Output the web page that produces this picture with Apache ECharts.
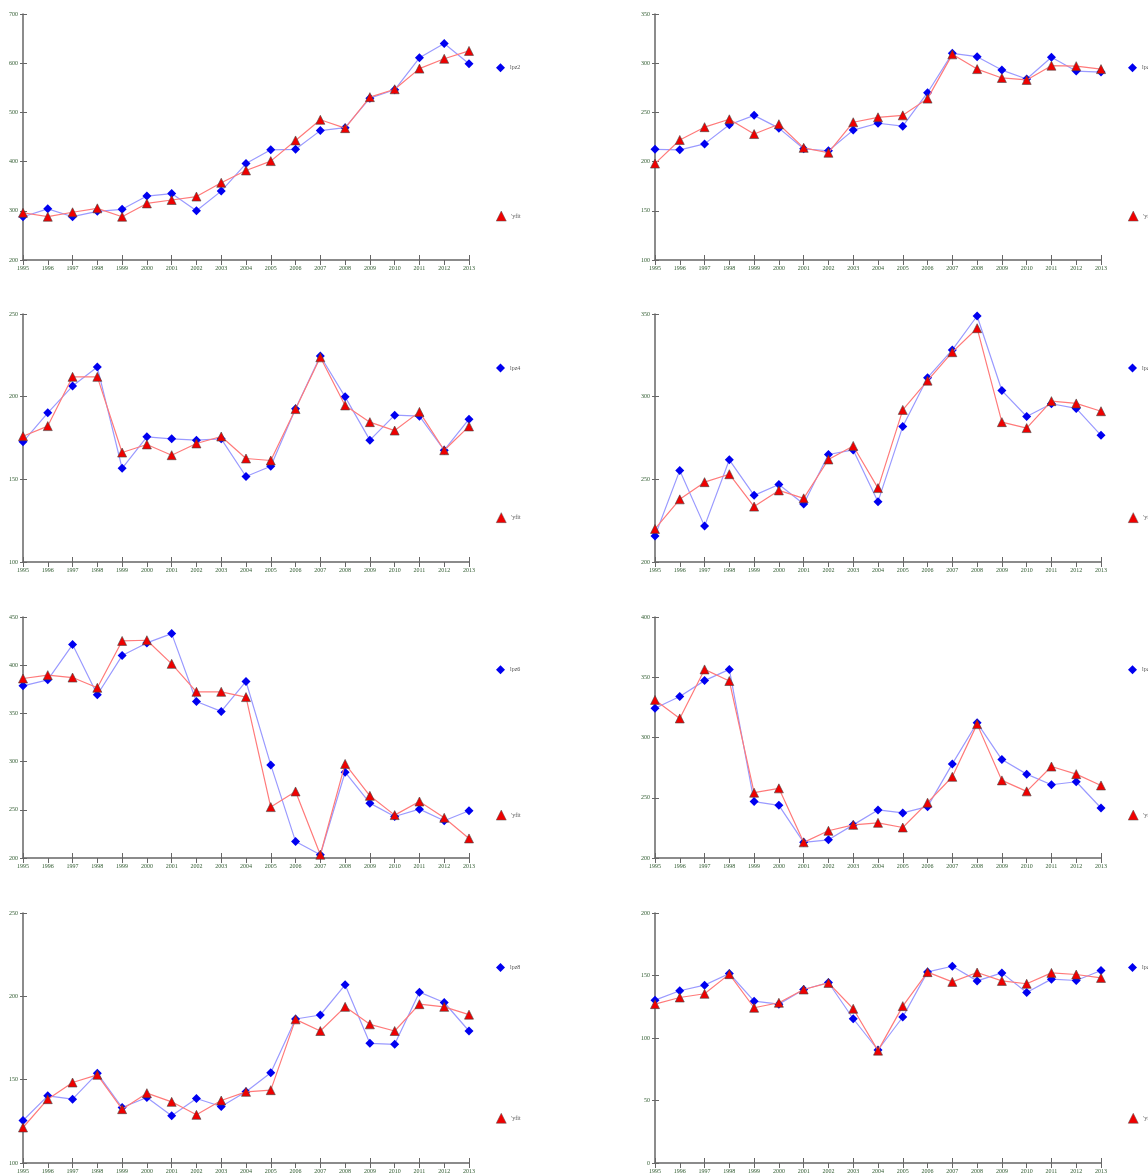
<!DOCTYPE html>
<html>
<head>
<meta charset="utf-8">
<script src="https://cdn.jsdelivr.net/npm/echarts@6/dist/echarts.min.js"></script>
<style>
html,body{margin:0;padding:0;background:#fff;}
#c{width:1148px;height:1175px;}
</style>
</head>
<body>
<div id="c"></div>
<script>
const years = ['1995','1996','1997','1998','1999','2000','2001','2002','2003','2004','2005','2006','2007','2008','2009','2010','2011','2012','2013'];

const names = ['lpz2','lpz3','lpz4','lpz5','lpz6','lpz7','lpz8','lpz9'];
const fitName = "'yfit";

const lpz2 = [288,304,288,299,303,330,335,300,340,396,424,425,463,469,529,546,611,640,599];
const fit2 = [296,288,297,305,288,315,322,329,357,382,401,443,485,468,531,547,589,609,625];

const lpz3 = [212.5,212,218,237.5,247,234,213,211,232,239,236,270,310,306.6,293,284,306,292,291];
const fit3 = [198,222,235,243,228,238,214,209,240,245,247,264,309,294,285,283,297.5,297,294];

const lpz4 = [172.7,190.2,206.4,217.9,156.7,175.7,174.5,173.7,174.5,151.7,157.9,192.7,224.6,199.9,173.7,188.8,188.2,167.6,186.4];
const fit4 = [176.1,182.2,212,212,166.2,171.1,164.6,171.7,175.9,162.6,161.4,192.5,223.8,194.7,184.6,179.5,190.8,167.6,182];

const lpz5 = [215.7,255.4,221.7,261.8,240.3,246.9,235.1,265,267.8,236.5,282,311.5,328.3,348.8,303.7,288,295.7,292.9,276.6];
const fit5 = [220,237.9,248.3,253.1,233.5,243.3,238.5,262,270.2,244.7,292,309.7,326.9,341.4,284.6,281,297.3,295.9,291.2];

const lpz6 = [378.6,384.8,421.4,369.3,410,423.1,432.8,362.4,352.1,383.1,296.6,217.2,203.4,289,256.9,243.1,250.7,238.6,249];
const fit6 = [386.2,389.7,387.2,376.6,425.2,425.9,401.4,372.4,372.4,366.9,252.8,269,203.4,297.6,264.5,244.5,258.6,241.7,220.3];

const lpz7 = [324.3,334,347.2,356.5,246.8,243.7,213,215.1,227.5,239.9,237.4,242.6,278.1,312.2,281.7,269.6,260.8,263.3,241.5];
const fit7 = [331.2,315.8,356.5,346.9,254.2,257.8,213,222.6,227.5,229.2,225.3,245.9,267.4,311.1,264.4,255.3,275.9,269.6,260.2];

const lpz8 = [125.5,140.3,138.3,153.8,133.3,139.3,128.3,138.7,133.9,142.7,154.2,186.4,188.8,206.9,171.8,171.2,202.5,196.3,179.2];
const fit8 = [121.3,138.3,148.3,152.9,132.3,141.9,136.7,128.9,137.5,142.7,143.7,186.2,179.2,193.7,183.2,179.2,195.3,193.7,189];

const lpz9 = [130.3,137.8,142.3,151.6,129.5,127.1,138.8,144.4,115.4,90.4,116.8,152.9,157.4,145.7,152.1,136.4,147.1,146,154];
const fit9 = [127.1,132.4,135.4,151.1,124.2,128.2,138.8,144.1,123.4,89.9,125.5,152.7,144.9,152.4,145.7,143.4,152.1,150.8,148.1];

const yMin = [200,100,100,200,200,200,100,0];
const yMax = [700,350,250,350,450,400,250,200];
const yStep = [100,50,50,50,50,50,50,50];

const obsData = [lpz2,lpz3,lpz4,lpz5,lpz6,lpz7,lpz8,lpz9];
const fitData = [fit2,fit3,fit4,fit5,fit6,fit7,fit8,fit9];

const colLeft = [23, 655];
const gridW = 446;
const rowTop = [14, 314, 617, 913];
const rowH = [246, 248, 241, 250];

const labelFont = 'Liberation Serif';
const axisCol = '#666';
const labelCol = '#2f5a2f';

const grid = [], xAxis = [], yAxis = [], series = [], legend = [];
for (let i = 0; i < 8; i++) {
  const r = Math.floor(i / 2), c = i % 2;
  const top = rowTop[r], h = rowH[r], left = colLeft[c];
  grid.push({left: left, top: top, width: gridW, height: h, containLabel: false});
  xAxis.push({
    type: 'category', gridIndex: i, data: years, boundaryGap: false,
    axisLine: {lineStyle: {color: axisCol, width: 1.5}},
    axisTick: {show: true, length: 5, lineStyle: {color: axisCol}},
    axisLabel: {fontSize: 6, fontFamily: labelFont, color: labelCol, margin: 5, interval: 0},
    splitLine: {show: false}
  });
  yAxis.push({
    type: 'value', gridIndex: i, min: yMin[i], max: yMax[i], interval: yStep[i],
    axisLine: {show: true, lineStyle: {color: axisCol, width: 1.5}},
    axisTick: {show: true, length: 3, lineStyle: {color: axisCol}},
    axisLabel: {fontSize: 6, fontFamily: labelFont, color: labelCol, margin: 5},
    splitLine: {show: false}
  });
  series.push({
    name: names[i], type: 'line', data: obsData[i],
    symbol: 'diamond', symbolSize: 9,
    itemStyle: {color: '#0000f0'},
    lineStyle: {color: '#9a9aff', width: 1.2},
    animation: false, z: 3
  });
  series.push({
    name: fitName, type: 'line', data: fitData[i],
    symbol: 'triangle', symbolSize: 9,
    itemStyle: {color: '#f00000', borderColor: '#444', borderWidth: 0.6},
    lineStyle: {color: '#ff7a7a', width: 1.2},
    animation: false, z: 4
  });
  xAxis.push({
    type: 'category', gridIndex: i, data: years, boundaryGap: false, position: 'bottom',
    axisLine: {show: false},
    axisTick: {show: true, inside: true, length: 5, lineStyle: {color: axisCol}},
    axisLabel: {show: false}, splitLine: {show: false}
  });
  yAxis.push({
    type: 'value', gridIndex: i, min: yMin[i], max: yMax[i], interval: yStep[i], position: 'left',
    axisLine: {show: false},
    axisTick: {show: true, inside: true, length: 4, lineStyle: {color: axisCol}},
    axisLabel: {show: false}, splitLine: {show: false}
  });
  const lx = left + gridW + 22;
  legend.push({
    left: lx, top: top + h * 0.2 - 5, orient: 'vertical',
    data: [{name: names[i], icon: 'diamond', itemStyle: {color: '#0000f0', borderWidth: 0}}],
    itemWidth: 9, itemHeight: 9, itemGap: 0,
    textStyle: {fontSize: 6, fontFamily: labelFont, color: '#555'},
    selectedMode: false
  });
  legend.push({
    left: lx, top: top + h * 0.8 - 5, orient: 'vertical',
    data: [{name: fitName, icon: 'triangle', itemStyle: {color: '#f00000', borderColor: '#555', borderWidth: 0.5}}],
    itemWidth: 10, itemHeight: 10, itemGap: 0,
    textStyle: {fontSize: 6, fontFamily: labelFont, color: '#555'},
    selectedMode: false
  });
}
series.forEach((s, k) => { const i = Math.floor(k / 2); s.xAxisIndex = 2*i; s.yAxisIndex = 2*i; });

const chart = echarts.init(document.getElementById('c'), null, {renderer: 'canvas'});
chart.setOption({
  backgroundColor: '#fff',
  animation: false,
  grid: grid, xAxis: xAxis, yAxis: yAxis, series: series, legend: legend
});
</script>
</body>
</html>
